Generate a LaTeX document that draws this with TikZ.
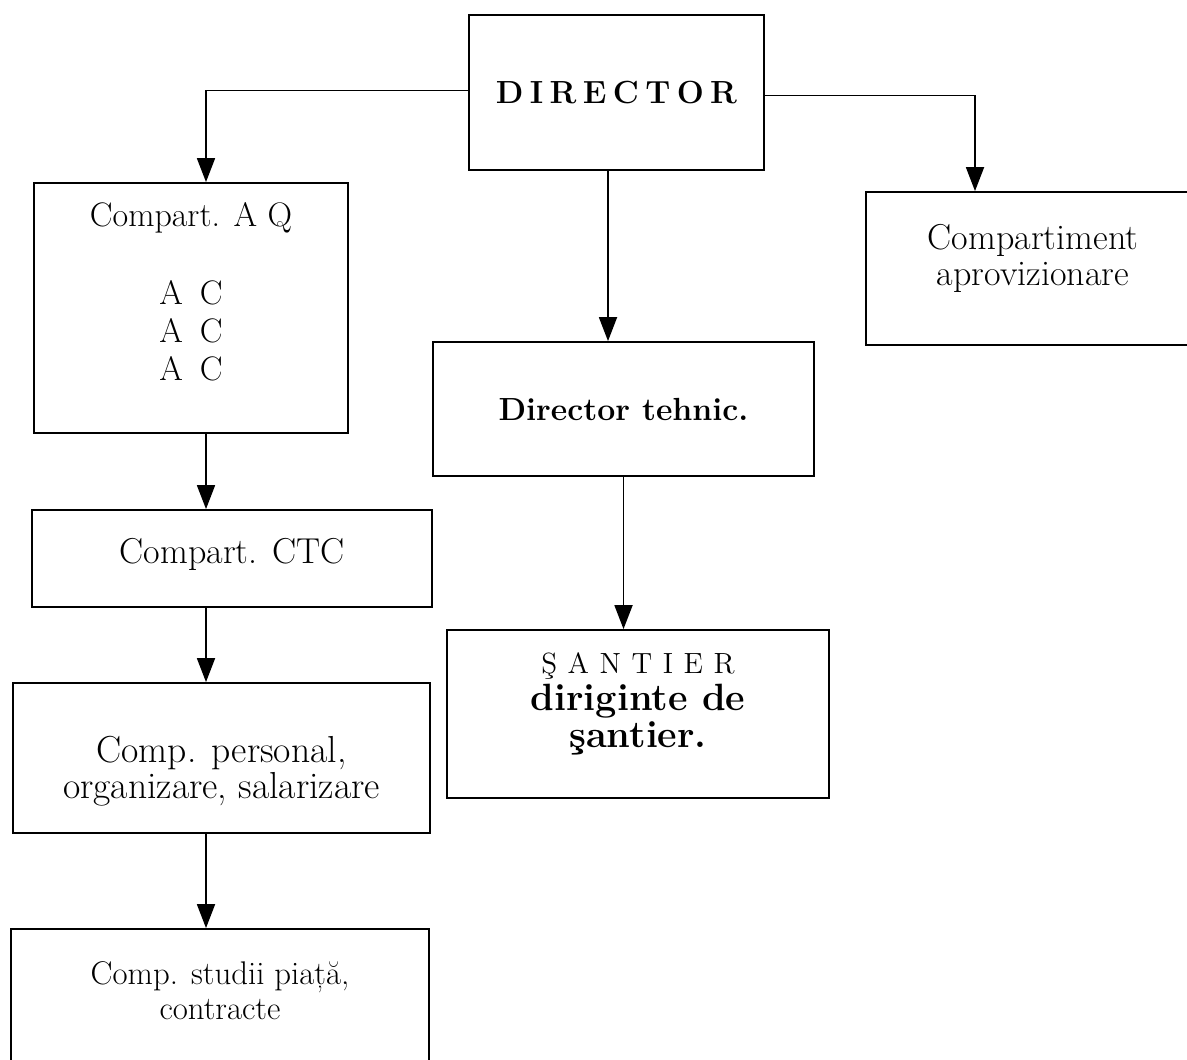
\documentclass[tikz,border=0pt]{standalone}
\usepackage{fontspec}
\usetikzlibrary{arrows.meta}
\newcommand{\tr}[1][0.2em]{\hspace{#1}}
\tikzset{
  dims/.style n args={2}{minimum width=#1*0.5pt, minimum height=#2*0.5pt},
  box/.style={draw, rectangle, line width=0.9pt, inner sep=0pt, align=center},
  arr/.style={line width=0.9pt, -{Triangle[width=9pt,length=12pt]}},
}
\begin{document}
\begin{tikzpicture}[x=0.5pt,y=-0.5pt]
  \useasboundingbox (0,0) rectangle (1187,1059);
  \fill[white] (0,0) rectangle (1187,1059);
  \clip (0,0) rectangle (1187,1059);

  % top
  \node[box, dims={295}{155}, font=\fontsize{16}{19}\selectfont\bfseries] (dir) at (616.5,92.5)
    {D\tr I\tr R\tr E\tr C\tr T\tr O\tr R};

  % left column
  \node[box, dims={314}{250}, text height=73pt, font=\fontsize{17}{19}\selectfont] (aq) at (191,308)
    {Compart. A Q\\[20pt] A\enspace C\\A\enspace C\\A\enspace C};
  \node[box, dims={400}{97}, text depth=0.75em, font=\fontsize{18}{19}\selectfont] (ctc) at (232,558.5) {Compart. CTC};
  \node[box, dims={417}{150}, text height=44pt, font=\fontsize{18.8}{18}\selectfont] (pers) at (221.5,758)
    {Comp. personal,\\organizare, salarizare};
  \node[box, dims={418}{142}, text height=20pt, font=\fontsize{16.4}{17.5}\selectfont] (stud) at (220,1000)
    {Comp. studii piață,\\contracte};

  % middle column
  \node[box, dims={381}{134}, font=\fontsize{16}{19}\selectfont\bfseries] (tech) at (623.5,409) {Director tehnic.};
  \node[box, dims={382}{168}, text height=37pt, font=\fontsize{19}{18.5}\selectfont] (sant) at (638,714)
    {{\fontsize{14.6}{18.5}\selectfont Ş\tr[0.36em]A\tr[0.36em]N\tr[0.36em]T\tr[0.36em]I\tr[0.36em]E\tr[0.36em]R}\\
     \textbf{diriginte de}\\\textbf{şantier.}};

  % right column
  \node[box, dims={334}{153}, text height=21pt, font=\fontsize{18}{18}\selectfont] (apr) at (1033,268.5)
    {Compartiment\\aprovizionare};

  \coordinate (lspine) at (206,0);
  \coordinate (mspine) at (608,0);
  \coordinate (rspine) at (975,0);

  \draw[arr] ([yshift=1pt]dir.west) -| (aq.north -| lspine);
  \draw[arr] ([yshift=-1.5pt]dir.east) -| (apr.north -| rspine);
  \draw[arr] (dir.south -| mspine) -- (tech.north -| mspine);
  \draw[arr] (tech.south) -- (tech.south |- sant.north);
  \draw[arr] (aq.south -| lspine) -- (ctc.north -| lspine);
  \draw[arr] (ctc.south -| lspine) -- (pers.north -| lspine);
  \draw[arr] (pers.south -| lspine) -- (stud.north -| lspine);
\end{tikzpicture}
\end{document}
